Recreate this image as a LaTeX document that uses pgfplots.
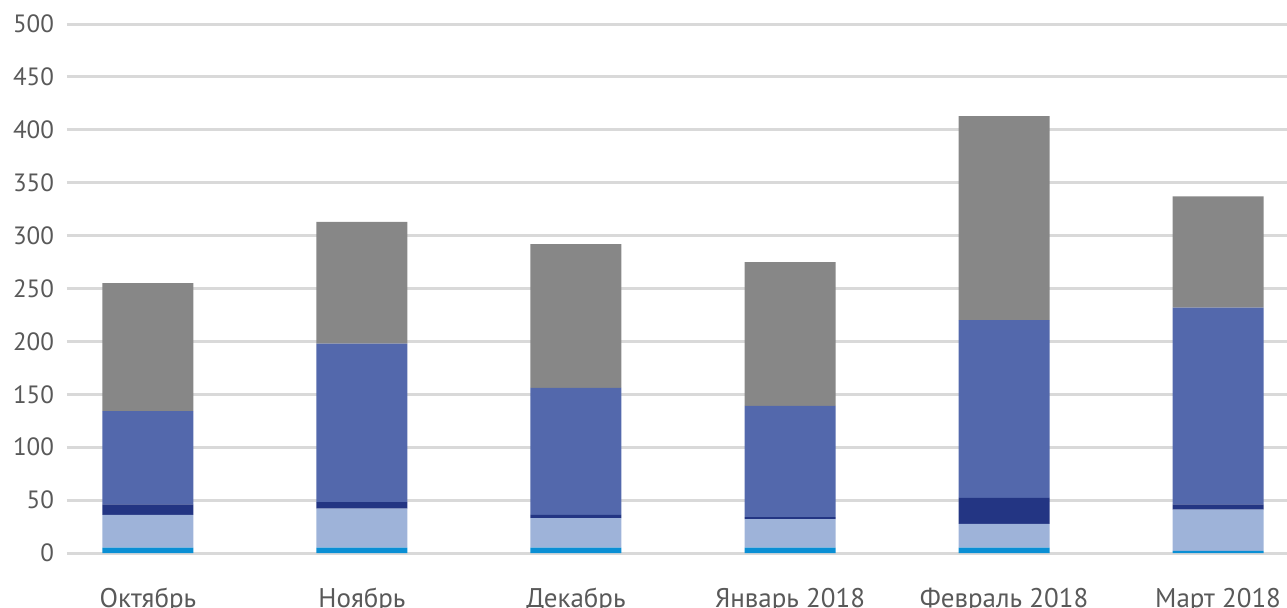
\documentclass[border=0pt]{standalone}
\usepackage{pgfplots}
\pgfplotsset{compat=1.18}
\usepackage{fontspec}
\setmainfont{PT Sans}
\definecolor{cA}{HTML}{0A8FD4}
\definecolor{cB}{HTML}{9EB3D9}
\definecolor{cC}{HTML}{233583}
\definecolor{cD}{HTML}{5368AC}
\definecolor{cE}{HTML}{878787}
\definecolor{gridc}{HTML}{D9D9D9}
\definecolor{txt}{HTML}{595959}
\begin{document}
\begin{tikzpicture}
\begin{axis}[
  anchor=south west, at={(0,0)},
  scale only axis,
  width=610pt, height=264.5pt,
  xmin=-0.378, xmax=5.322,
  ymin=0, ymax=500,
  ytick={0,50,...,500},
  xtick={0,1,2,3,4,5},
  xticklabels={Октябрь,Ноябрь,Декабрь,Январь 2018,Февраль 2018,Март 2018},
  ybar stacked,
  bar width=45.5pt,
  axis line style={draw=none},
  major tick length=0pt,
  ymajorgrids,
  grid style={gridc, line width=1.5pt},
  yticklabel style={font=\fontsize{12.5}{14}\selectfont, text=txt, xshift=-3pt},
  xticklabel style={font=\fontsize{13.5}{15}\selectfont, text=txt, yshift=-14pt},
  /pgf/number format/assume math mode=true,
  every axis plot/.append style={draw=none},
  clip=false,
]
\addplot[fill=cA] coordinates {(0,5) (1,5) (2,5) (3,5) (4,5) (5,2)};
\addplot[fill=cB] coordinates {(0,31) (1,37) (2,28) (3,27) (4,22.5) (5,39)};
\addplot[fill=cC] coordinates {(0,10) (1,6) (2,3) (3,2) (4,24.5) (5,5)};
\addplot[fill=cD] coordinates {(0,88) (1,150) (2,120) (3,105) (4,168) (5,186)};
\addplot[fill=cE] coordinates {(0,121) (1,115) (2,136) (3,136) (4,193) (5,105)};
\end{axis}
\pgfresetboundingbox
\path (-33.5pt,-27pt) rectangle (610pt,276.5pt);
\end{tikzpicture}
\end{document}
